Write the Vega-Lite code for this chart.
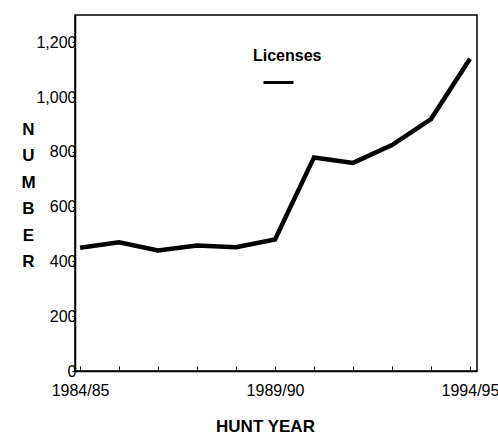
{
  "$schema": "https://vega.github.io/schema/vega-lite/v6.json",
  "autosize": {"type": "none"},
  "width": 402,
  "height": 356,
  "padding": {"left": 75, "top": 15, "right": 21, "bottom": 67},
  "background": "white",
  "config": {
    "font": "Liberation Sans",
    "view": {"stroke": "black", "strokeWidth": 1.5},
    "axis": {"domainColor": "black", "domainWidth": 1.5, "tickColor": "black", "labelColor": "black", "titleColor": "black", "grid": false}
  },
  "data": {
    "values": [
      {"year": 1984, "season": "1984/85", "licenses": 450},
      {"year": 1985, "season": "1985/86", "licenses": 470},
      {"year": 1986, "season": "1986/87", "licenses": 440},
      {"year": 1987, "season": "1987/88", "licenses": 458},
      {"year": 1988, "season": "1988/89", "licenses": 452},
      {"year": 1989, "season": "1989/90", "licenses": 480},
      {"year": 1990, "season": "1990/91", "licenses": 780},
      {"year": 1991, "season": "1991/92", "licenses": 760},
      {"year": 1992, "season": "1992/93", "licenses": 825},
      {"year": 1993, "season": "1993/94", "licenses": 920},
      {"year": 1994, "season": "1994/95", "licenses": 1140}
    ]
  },
  "mark": {"type": "line", "strokeWidth": 4.5, "strokeJoin": "miter"},
  "encoding": {
    "x": {
      "field": "year",
      "type": "quantitative",
      "scale": {"domain": [1983.87, 1994.18], "nice": false, "zero": false},
      "axis": {
        "values": [1984, 1985, 1986, 1987, 1988, 1989, 1990, 1991, 1992, 1993, 1994],
        "labelExpr": "datum.value == 1984 ? '1984/85' : datum.value == 1989 ? '1989/90' : datum.value == 1994 ? '1994/95' : ''",
        "tickSize": -5,
        "labelPadding": 16,
        "labelFontSize": 16,
        "labelFlush": false,
        "labelOverlap": false,
        "title": "HUNT YEAR",
        "titleFontSize": 17,
        "titleFontWeight": "bold",
        "titlePadding": 20,
        "titleX": 190
      }
    },
    "y": {
      "field": "licenses",
      "type": "quantitative",
      "scale": {"domain": [0, 1300], "nice": false},
      "axis": {
        "values": [0, 200, 400, 600, 800, 1000, 1200],
        "format": ",d",
        "tickSize": 3,
        "labelPadding": -4,
        "labelFontSize": 16,
        "labelFlush": false,
        "title": ["N", "U", "M", "B", "E", "R"],
        "titleAngle": 0,
        "titleFontSize": 17,
        "titleFontWeight": "bold",
        "titleLineHeight": 26.5,
        "titleAlign": "center",
        "titleBaseline": "middle",
        "titleX": -47,
        "titleY": 114
      }
    },
    "color": {
      "datum": "Licenses",
      "scale": {"range": ["black"]},
      "legend": {
        "orient": "none",
        "legendX": 178,
        "legendY": 33,
        "title": "Licenses",
        "titleFontSize": 16,
        "titleFontWeight": "bold",
        "titleColor": "black",
        "titlePadding": 2,
        "symbolType": "stroke",
        "symbolSize": 900,
        "symbolStrokeWidth": 3,
        "symbolOffset": 9,
        "labelExpr": "''",
        "padding": 0
      }
    }
  }
}
